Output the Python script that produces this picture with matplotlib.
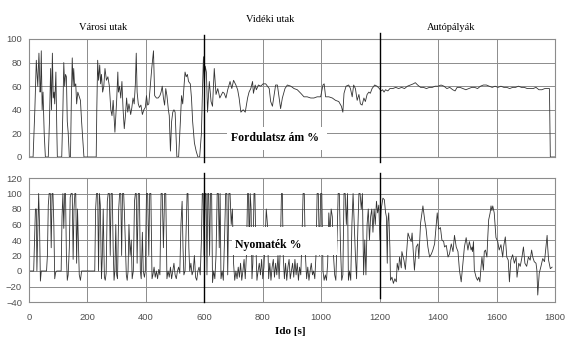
import matplotlib.pyplot as plt
from matplotlib.patches import Rectangle

# --- Normalised engine speed (%) vs time (s) ---
speed_t = [
    0, 14, 20, 25, 30, 34, 38, 40, 42, 45, 48, 52, 56, 66, 70, 74, 77, 80, 83, 86, 88, 92, 95, 97,
    112, 116, 119, 122, 125, 128, 131, 134, 138, 142, 145, 148, 151, 153, 156, 160, 163, 167, 171,
    176, 180, 188, 230, 232, 235, 238, 242, 245, 248, 252, 256, 260, 265, 270, 275, 280, 284, 288,
    292, 294, 297, 300, 304, 306, 310, 314, 318, 322, 326, 330, 334, 338, 342, 348, 352, 356, 360,
    364, 367, 370, 374, 378, 383, 388, 393, 398, 402, 406, 410, 415, 420, 426, 430, 436, 442, 448,
    452, 456, 460, 464, 468, 472, 477, 480, 484, 488, 492, 496, 500, 503, 506, 512, 518, 522, 526,
    530, 534, 538, 542, 546, 552, 556, 560, 566, 572, 578, 584, 590, 594, 597, 600,
    603, 607, 611, 617, 623, 628, 634, 640, 646, 653, 663, 668, 674, 680, 688, 694, 700, 708, 714,
    719, 725, 733, 740, 748, 753, 759, 765, 768, 774, 778, 785, 793, 801, 810, 816, 822, 827, 833,
    839, 844, 850, 856, 861, 867, 876, 884, 896, 907, 918, 930, 941, 952, 964, 975, 986, 998, 1006,
    1010, 1015, 1026, 1038, 1049, 1060, 1069, 1074, 1078, 1085, 1094, 1100, 1106, 1111, 1117, 1123,
    1129, 1134, 1140, 1146, 1151, 1157, 1163, 1168, 1174, 1183, 1191, 1199,
    1205, 1210, 1215, 1220, 1228, 1235, 1245, 1255, 1265, 1275, 1285, 1295, 1305, 1315, 1322, 1330,
    1340, 1350, 1360, 1370, 1380, 1390, 1400, 1410, 1420, 1430, 1440, 1450, 1458, 1465, 1475, 1485,
    1495, 1505, 1515, 1525, 1535, 1545, 1555, 1565, 1575, 1585, 1595, 1605, 1615, 1625, 1635, 1645,
    1655, 1665, 1675, 1685, 1695, 1705, 1715, 1725, 1735, 1745, 1755, 1765, 1775, 1781, 1784, 1800,
]
speed_v = [
    0, 0, 40, 82, 60, 88, 55, 62, 90, 40, 55, 20, 0, 0, 30, 75, 40, 88, 50, 55, 45, 72, 25, 0,
    0, 40, 80, 60, 70, 68, 30, 21, 0, 0, 50, 84, 60, 75, 60, 62, 45, 55, 52,
    48, 30, 0, 0, 40, 82, 65, 78, 62, 70, 55, 60, 75, 65, 68, 60, 40, 35, 48,
    30, 21, 35, 48, 72, 55, 60, 50, 64, 40, 24, 35, 50, 38, 45, 36, 42, 50, 45,
    62, 88, 55, 45, 42, 44, 36, 40, 42, 52, 44, 45, 60, 75, 90, 52, 50, 50, 52,
    55, 60, 50, 44, 58, 52, 40, 35, 5, 30, 38, 40, 38, 20, 0, 0, 30, 52, 45,
    58, 72, 68, 70, 64, 62, 50, 30, 12, 5, 0, 0, 20, 60, 85, 60,
    77, 72, 38, 64, 47, 43, 75, 53, 58, 50, 55, 54, 50, 57, 64, 58, 65, 61, 57,
    50, 38, 40, 38, 50, 55, 58, 64, 54, 61, 57, 61, 60, 62, 62, 60, 58, 47, 43,
    53, 61, 61, 50, 41, 50, 58, 61, 60, 58, 57, 54, 51, 51, 50, 50, 51, 51, 61,
    62, 51, 51, 50, 48, 47, 43, 38, 54, 60, 61, 58, 51, 61, 58, 48,
    53, 45, 44, 50, 47, 53, 55, 54, 58, 61, 60, 58,
    56, 57, 55, 57, 56, 58, 58, 59, 58, 59, 58, 60, 61, 62, 63, 61,
    59, 59, 58, 59, 59, 60, 60, 61, 60, 58, 59, 57, 56, 59, 59, 58,
    57, 58, 59, 59, 58, 60, 61, 61, 60, 59, 60, 59, 60, 59, 59, 58,
    59, 59, 60, 59, 59, 58, 58, 58, 59, 57, 57, 58, 58, 58, 0, 0,
]

# --- Normalised engine torque (%) vs time (s) ---
torque_t = [
    0, 16, 19, 22, 25, 27, 30, 33, 36, 39, 42,
    60, 63, 66, 69, 73, 76, 79, 82, 85, 88, 91, 95,
    110, 113, 116, 119, 122, 125, 128, 131, 134,
    138, 141, 144, 148, 151, 154, 157, 160, 163, 166, 169, 172, 176, 180,
    225, 228, 231, 235, 238, 241, 244, 248, 251, 254, 258, 261, 264,
    268, 271, 275, 278, 281, 285, 288, 291, 294, 297, 300, 303,
    307, 310, 314, 317, 320, 324, 327, 330, 333, 336, 339, 342, 346, 350, 353,
    357, 361, 364, 367, 370, 374, 378, 381, 384, 388, 391, 395, 398,
    402, 406, 410, 413, 417, 421, 424, 428, 432, 436, 440, 444, 448,
    452, 456, 460, 464, 468, 472,
    476, 480, 484, 488, 492, 496, 500, 504, 508, 512, 516,
    520, 524, 527, 530, 534, 538, 541, 544, 547, 550, 554, 558, 562, 566, 570, 574, 578, 582, 586,
    590, 593, 596, 599,
    603, 606, 609, 612, 615, 618, 621, 625, 628, 632, 636, 640, 644, 648, 651, 654, 657, 661, 665,
    669, 673, 677, 680, 684, 688, 692, 696, 700, 704, 708, 712, 716, 720, 724, 728, 732, 736, 740,
    744, 748, 751, 754, 757, 760, 763, 766, 770, 773, 776, 780, 784, 788, 792, 796, 800, 804, 808,
    812, 816, 820, 824, 828, 832, 836, 840, 844, 848, 852, 856, 860, 864, 867, 870, 874, 878, 882,
    886, 890, 894, 898, 902, 906, 910, 914, 918, 922, 926, 930, 934, 938, 942, 946, 950, 954, 958,
    962, 966, 970, 974, 978, 982, 986, 990, 994, 998, 1002, 1006, 1010, 1014, 1018, 1022, 1026,
    1030, 1034, 1038, 1042, 1046, 1050, 1054, 1058, 1062, 1066, 1070, 1074, 1078, 1082, 1086, 1090,
    1093, 1097, 1101, 1105, 1109, 1113, 1117, 1121, 1125, 1129, 1133, 1137, 1141, 1145, 1149, 1153,
    1157, 1161, 1165, 1169, 1173, 1177, 1181, 1185, 1189, 1193, 1197, 1201,
    1205, 1211, 1216, 1220, 1223, 1226, 1228, 1231, 1235, 1237, 1242, 1247, 1252, 1257, 1260, 1265,
    1268, 1274, 1276, 1283, 1288, 1297, 1302, 1308, 1311, 1316, 1319, 1325, 1331, 1334, 1340, 1348,
    1354, 1359, 1365, 1371, 1377, 1382, 1388, 1394, 1397, 1402, 1408, 1413, 1419, 1422, 1428, 1434,
    1439, 1445, 1451, 1456, 1462, 1468, 1473, 1479, 1485, 1490, 1496, 1502, 1507, 1513, 1516, 1518,
    1521, 1524, 1530, 1535, 1539, 1543, 1547, 1550, 1555, 1558, 1562, 1567, 1570, 1573, 1578, 1581,
    1584, 1587, 1592, 1598, 1604, 1609, 1615, 1621, 1624, 1630, 1635, 1640, 1644, 1649, 1655, 1661,
    1667, 1670, 1676, 1681, 1687, 1692, 1697, 1703, 1709, 1715, 1720, 1724, 1729, 1735, 1738, 1741,
    1746, 1752, 1758, 1764, 1769, 1773, 1775, 1778, 1784, 1790,
]
torque_v = [
    0, 0, 40, 80, 80, 0, 50, 100, 60, -13, 0,
    0, 20, 85, 100, 100, 30, 100, 100, 60, -10, -2, 0,
    0, 70, 100, 55, 100, 100, 20, -12, -5,
    30, 95, 100, 100, 15, 80, 100, 100, 10, 80, 40, -5, -12, 0,
    0, 80, 100, 100, 0, 100, 85, -10, 20, 80, -8, -12, -3,
    90, 100, 100, 20, 100, 100, 30, -12, 0, 60, -5, -10,
    80, 100, 100, 20, 100, 100, 70, 30, -5, -12, 0, 60, 20, 40, -10,
    0, 90, 100, 100, 10, 100, 100, 0, -10, 50, 0, -8, 0,
    100, 100, 20, 100, 100, -10, -5, 5, -8, 0, -10, 2, -5,
    100, 100, 30, 100, 100, -10,
    0, -8, 5, -10, 0, 10, -5, -10, 0, 5, -3,
    60, 90, 30, -5, 0, 60, 100, 100, 30, 0, 10, -5, 0, 20, -8, -12, 0, 5, -5,
    40, 100, 100, 20,
    100, 100, -5, 100, 100, 20, 100, 100, -15, 0, -10, 20, 100, 100, 30, 100, -10, 0, -12,
    40, 100, 100, -5, 100, 100, 60, 80, 10, -12, 0, -10, 5, -8, 10, -12, 0, 15, -10,
    20, 100, 100, 30, 100, 80, -10, 10, 100, 100, 40, -12, 0, 10, -5, 15, -10, 5, 40,
    80, 60, -10, 10, -12, 5, 15, -8, 10, -5, 20, -10, 30, 100, 100, 20, -10, 10, -12,
    5, 15, -10, 0, 10, -8, 15, -5, 10, -12, 5, -5, 40, 100, 100, 20, -10, 5, -12,
    0, 10, -5, 0, -10, 20, 100, 100, 20, 100, 100, 0, -12, -5, -12, 10, 75,
    50, 80, 70, 20, -5, -12, 40, 100, 100, 30, -12, -5, 100, 100, 60, 100,
    -12, 0, -12, 60, 100, 60, 20, -10, 50, 100, 100, 80, 100, -5, 40, -5,
    60, 80, 40, 70, 80, 50, 80, 60, 90, 75, 85, 40,
    79, 94, 92, 76, 70, 10, 64, 75, 30, -12, -8, -16, -10, -14, 10, 1,
    18, 4, 25, 14, 2, 49, 43, 38, 49, 18, 1, 31, 35, 16, 62, 84,
    66, 54, 31, 18, 22, 27, 35, 62, 75, 54, 56, 40, 38, 31, 33, 18,
    22, 35, 25, 46, 31, 25, 1, -14, 10, 31, 43, 27, 38, 27, 31, 25,
    38, 1, -8, -12, -8, -14, 6, 18, 1, 25, 27, 18, 44, 66, 75, 84,
    78, 84, 75, 43, 38, 27, 34, 18, 31, 44, 18, 14, -14, 14, 21, 10,
    18, -8, 10, 6, 18, 31, 10, 6, 18, 14, 27, 18, 12, 10, 1, -31,
    -3, 6, 16, 12, 31, 46, 31, 14, 3, 5,
]

x_ticks = list(range(0, 1801, 200))
speed_ticks = list(range(0, 101, 20))
torque_ticks = list(range(-40, 121, 20))

line_col = '#333333'
grid_col = '#8c8c8c'
tick_col = '#505050'
W, H = 575, 348

fig = plt.figure(figsize=(W / 100, H / 100), dpi=100)
ax1 = fig.add_axes([29 / W, 1 - 157 / H, 526 / W, 118 / H])
ax2 = fig.add_axes([29 / W, 1 - 302 / H, 526 / W, 124 / H])

for ax, ticks in ((ax1, speed_ticks), (ax2, torque_ticks)):
    ax.set_xlim(0, 1800)
    ax.set_ylim(ticks[0], ticks[-1])
    ax.set_xticks(x_ticks)
    ax.set_yticks(ticks)
    ax.grid(True, color=grid_col, lw=0.7)
    ax.set_axisbelow(True)
    ax.tick_params(length=0, labelsize=6.8, colors=tick_col)
    ax.tick_params(axis='y', pad=5)
    ax.tick_params(axis='x', pad=8)
    for lbl in ax.get_xticklabels() + ax.get_yticklabels():
        lbl.set_family('Liberation Sans')
    for s in ax.spines.values():
        s.set_color(grid_col)
        s.set_linewidth(0.8)

ax1.tick_params(labelbottom=False)

ax1.plot(speed_t, speed_v, color=line_col, lw=0.6)
ax2.plot(torque_t, torque_v, color=line_col, lw=0.6)

# section separators (urban / rural / motorway)
ax1.plot([600, 600], [-4, 103], color='black', lw=1.0, clip_on=False, zorder=4)
ax1.plot([1200, 1200], [-4, 105], color='black', lw=1.0, clip_on=False, zorder=4)
ax2.plot([600, 600], [-40, 126], color='black', lw=1.0, clip_on=False, zorder=4)
ax2.plot([1200, 1200], [-35, 127], color='black', lw=1.0, clip_on=False, zorder=4)

# white label boxes over the traces
ax1.add_patch(Rectangle((678, 6), 342, 19, facecolor='white', edgecolor='none', zorder=5))
ax1.text(842, 16, 'Fordulatsz ám %', ha='center', va='center', fontsize=8.5,
         fontweight='bold', family='Liberation Serif', zorder=6)
ax2.add_patch(Rectangle((695, 21), 359, 36, facecolor='white', edgecolor='none', zorder=5))
ax2.text(818, 34, 'Nyomaték %', ha='center', va='center', fontsize=8.5,
         fontweight='bold', family='Liberation Serif', zorder=6)

serif = dict(family='Liberation Serif', fontsize=7.5, ha='center', va='center')
fig.text(103 / W, 1 - 27 / H, 'Városi utak', **serif)
fig.text(270 / W, 1 - 19 / H, 'Vidéki utak', **serif)
fig.text(451 / W, 1 - 27 / H, 'Autópályák', **serif)
fig.text(290 / W, 1 - 331 / H, 'Ido [s]', family='Liberation Serif', fontsize=8,
         fontweight='bold', ha='center', va='center')

fig.savefig('out.png', dpi=100)
